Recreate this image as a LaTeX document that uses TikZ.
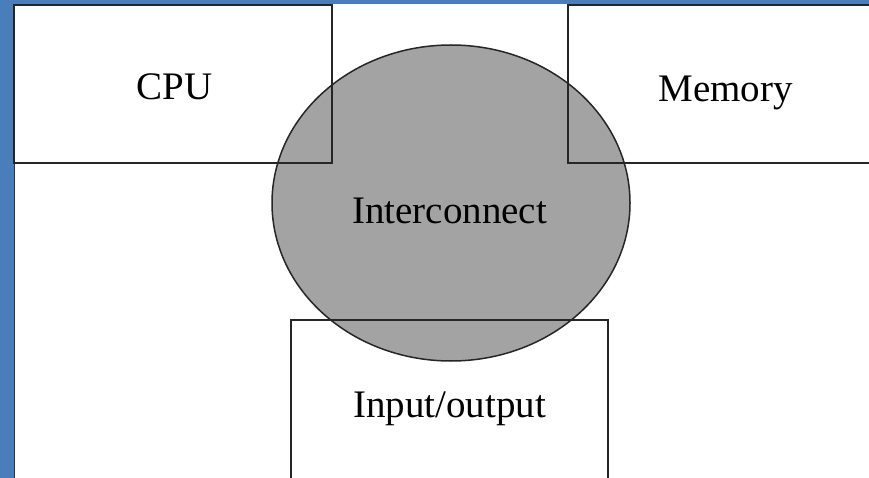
\documentclass[tikz,border=0pt]{standalone}
\usepackage{fontspec}
\setmainfont{Liberation Serif}
\usetikzlibrary{shapes.geometric}
\definecolor{framebg}{HTML}{4A7EBB}
\definecolor{busgray}{HTML}{A3A3A3}
\begin{document}
\begin{tikzpicture}[
x=1pt, y=-1pt,
unit/.style={rectangle, draw=black!85, line width=1.7pt, inner sep=0pt},
bus/.style={ellipse, draw=black!85, fill=busgray, line width=1.5pt, inner sep=0pt,
  minimum width=358pt, minimum height=316pt},
word/.style={font=\fontsize{39}{47}\selectfont, inner sep=0pt, anchor=base}
]
\useasboundingbox (0,0) rectangle (869,478);
\begin{scope}
\clip (0,0) rectangle (869,478);
% frame
\fill[framebg] (0,0) rectangle (869,4);
\fill[framebg] (0,0) rectangle (14,478);
\draw[black!80, line width=1.2pt] (14.6,4) -- (14.6,478);
% interconnect
\node[bus] (bus) at (451,203) {};
\node[word] (bustext) at ([xshift=-1.5pt,yshift=-20pt]bus.center) {Interconnect};
% units
\node[unit, minimum width=318pt, minimum height=158pt] (cpu) at (173,84) {};
\node[word] at ([xshift=1.5pt,yshift=-16pt]cpu.center) (cputext) {CPU};
\node[unit, minimum width=312pt, minimum height=158pt] (mem) at (724,84) {};
\node[word] at ([xshift=1.5pt,yshift=-18pt]mem.center) (memtext) {Memory};
\node[unit, minimum width=317pt, minimum height=165pt] (io) at (449.5,402.5) {};
\node[word] at ([yshift=-14.5pt]io.center) (iotext) {Input/output};
\end{scope}
\end{tikzpicture}
\end{document}
